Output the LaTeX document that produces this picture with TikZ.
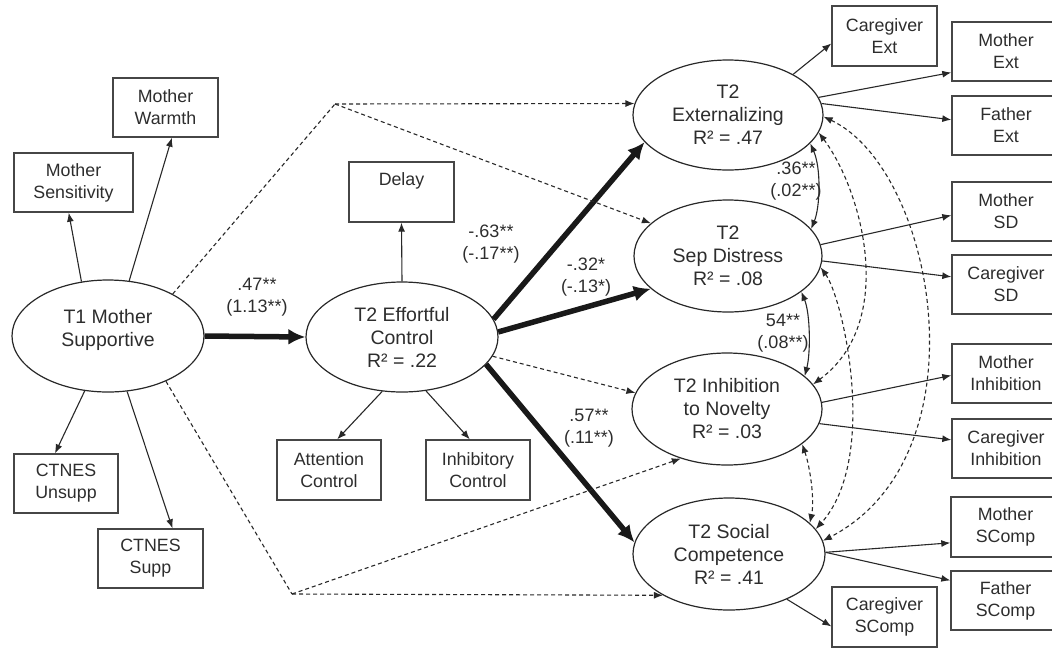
\documentclass[tikz,border=0pt]{standalone}
\usepackage{fontspec}
\setmainfont{Liberation Sans}
\usetikzlibrary{arrows.meta,shapes.geometric}
\definecolor{lc}{RGB}{40,40,40}
\definecolor{bc}{RGB}{70,70,70}
\definecolor{tc}{RGB}{45,45,45}
\newcommand\mytxt{\fontsize{19.5}{23}\selectfont}
\newcommand\mybox{\fontsize{17.8}{22}\selectfont}
\newcommand\mylbl{\fontsize{18}{21.5}\selectfont}
\tikzset{
  lat/.style={ellipse, draw=lc, line width=1.2pt, inner sep=0pt, align=center, font=\mytxt, text=tc},
  obs/.style={rectangle, draw=bc, line width=1.4pt, inner sep=0pt, align=center, font=\mybox, text=tc},
  ln/.style={draw=lc, line width=1.1pt, -{Latex[length=9pt,width=7pt]}},
  dsh/.style={ln, dash pattern=on 4pt off 3pt},
  dshl/.style={draw=lc, line width=1.1pt, dash pattern=on 4pt off 3pt},
  bigarrow/.style={draw=black!90, line width=5.5pt, -{Latex[length=17pt,width=16pt]}},
  cov/.style={draw=lc, line width=1.1pt, {Latex[length=9pt,width=7pt]}-{Latex[length=9pt,width=7pt]}},
  dcov/.style={cov, dash pattern=on 4pt off 3pt},
  lbl/.style={font=\mylbl, align=center, text=tc, inner sep=0pt}
}
\begin{document}
\begin{tikzpicture}[x=1pt,y=-1pt]
\useasboundingbox (0,0) rectangle (1052,649);
% latent variables
\node[lat, minimum width=192pt, minimum height=112pt] (T1) at (108,336) {T1 Mother\\Supportive\\[-6pt]\mbox{}};
\node[lat, minimum width=192pt, minimum height=110pt] (EC) at (402,337) {T2 Effortful\\Control\\R² = .22};
\node[lat, minimum width=190pt, minimum height=110pt] (Ext) at (728,115) {T2\\Externalizing\\R² = .47};
\node[lat, minimum width=188pt, minimum height=112pt] (Sep) at (728,256) {T2\\Sep Distress\\R² = .08};
\node[lat, minimum width=190pt, minimum height=112pt] (Inh) at (727,409) {T2 Inhibition\\to Novelty\\R² = .03};
\node[lat, minimum width=192pt, minimum height=112pt] (SC) at (729,554) {T2 Social\\Competence\\R² = .41};
% indicators left
\node[obs, minimum width=119pt, minimum height=59pt] (Sens) at (73.5,182.5) {Mother\\Sensitivity};
\node[obs, minimum width=105pt, minimum height=59pt] (Warm) at (165.5,107.5) {Mother\\Warmth};
\node[obs, minimum width=104pt, minimum height=59pt] (Unsupp) at (66,483.5) {CTNES\\Unsupp};
\node[obs, minimum width=105pt, minimum height=59pt] (Supp) at (150.5,558.5) {CTNES\\Supp};
% indicators middle
\node[obs, minimum width=105pt, minimum height=60pt] (Delay) at (401.5,192) {Delay\\\phantom{Delay}};
\node[obs, minimum width=104pt, minimum height=60pt] (Attn) at (329,470) {Attention\\Control};
\node[obs, minimum width=104pt, minimum height=60pt] (InhC) at (478,470) {Inhibitory\\Control};
% indicators right
\node[obs, minimum width=105pt, minimum height=60pt] (CgExt) at (884.5,36) {Caregiver\\Ext};
\node[obs, minimum width=108pt, minimum height=59pt] (MoExt) at (1006,51.5) {Mother\\Ext};
\node[obs, minimum width=108pt, minimum height=59pt] (FaExt) at (1006,125.5) {Father\\Ext};
\node[obs, minimum width=108pt, minimum height=59pt] (MoSD) at (1006,211.5) {Mother\\SD};
\node[obs, minimum width=108pt, minimum height=59pt] (CgSD) at (1006,284.5) {Caregiver\\SD};
\node[obs, minimum width=108pt, minimum height=59pt] (MoInh) at (1006,373.5) {Mother\\Inhibition};
\node[obs, minimum width=108pt, minimum height=59pt] (CgInh) at (1006,448.5) {Caregiver\\Inhibition};
\node[obs, minimum width=109pt, minimum height=60pt] (MoSC) at (1005.5,527) {Mother\\SComp};
\node[obs, minimum width=109pt, minimum height=59pt] (FaSC) at (1005.5,600.5) {Father\\SComp};
\node[obs, minimum width=105pt, minimum height=60pt] (CgSC) at (884.5,617) {Caregiver\\SComp};
% corner points of dashed paths
\coordinate (cu) at (335,104);
\coordinate (cl) at (292,594);
% measurement arrows
\draw[ln] (T1.116) -- (Sens.261);
\draw[ln] (T1.69) -- (Warm.282);
\draw[ln] (T1.247) -- (Unsupp.110);
\draw[ln] (T1.289) -- (Supp.54);
\draw[ln] (EC.north) -- (Delay.south);
\draw[ln] (EC.250) -- (Attn.75);
\draw[ln] (EC.294) -- (InhC.105);
\draw[ln] (Ext.32) -- (CgExt.188);
\draw[ln] (Ext.11) -- (MoExt.201);
\draw[ln] (Ext.7) -- (FaExt.174);
\draw[ln] (Sep.7) -- (MoSD.184);
\draw[ln] (Sep.357) -- (CgSD.172);
\draw[ln] (Inh.4) -- (MoInh.182);
\draw[ln] (Inh.351) -- (CgInh.171);
\draw[ln] (SC.1) -- (MoSC.196);
\draw[ln] (SC.1) -- (FaSC.160);
\draw[ln] (SC.322) -- (CgSC.190);
% structural paths
\draw[bigarrow] (T1.east) -- (EC.west);
\draw[bigarrow] (EC.11) -- (Ext.198);
\draw[bigarrow] (EC.3) -- (Sep.203);
\draw[bigarrow] (EC.342) -- (SC.173);
\draw[dsh] (EC.348) -- (Inh.170);
\draw[dshl] (T1.33) -- (cu);
\draw[dsh] (cu) -- (Ext.173);
\draw[dsh] (cu) -- (Sep.157);
\draw[dshl] (T1.322) -- (cl);
\draw[dsh] (cl) -- (Inh.227);
\draw[dsh] (cl) -- (SC.212);
% covariances
\draw[cov] (Ext.341) .. controls +(11,25) and +(9,-22) .. (Sep.18);
\draw[cov] (Sep.334) .. controls +(9,22) and +(6,-23) .. (Inh.23);
\draw[dcov] (Inh.335) .. controls +(8,23) and +(5,-23) .. (SC.21);
\draw[dcov] (Ext.349) .. controls +(43,57) and +(85,-63) .. (Inh.16);
\draw[dcov] (Sep.353) .. controls +(23,32) and +(63,-70) .. (SC.16);
\draw[dcov] (Ext.359) .. controls +(112,53) and +(164,-85) .. (SC.8);
% labels
\node[lbl] (l1) at (257,297) {.47**\\(1.13**)};
\node[lbl] (l2) at (491,244) {-.63**\\(-.17**)};
\node[lbl] (l3) at (586,277) {-.32*\\(-.13*)};
\node[lbl] (l4) at (589,428) {.57**\\(.11**)};
\node[lbl] (l5) at (796,181) {.36**\\(.02**)};
\node[lbl] (l6) at (783,333) {54**\\(.08**)};
\end{tikzpicture}
\end{document}
